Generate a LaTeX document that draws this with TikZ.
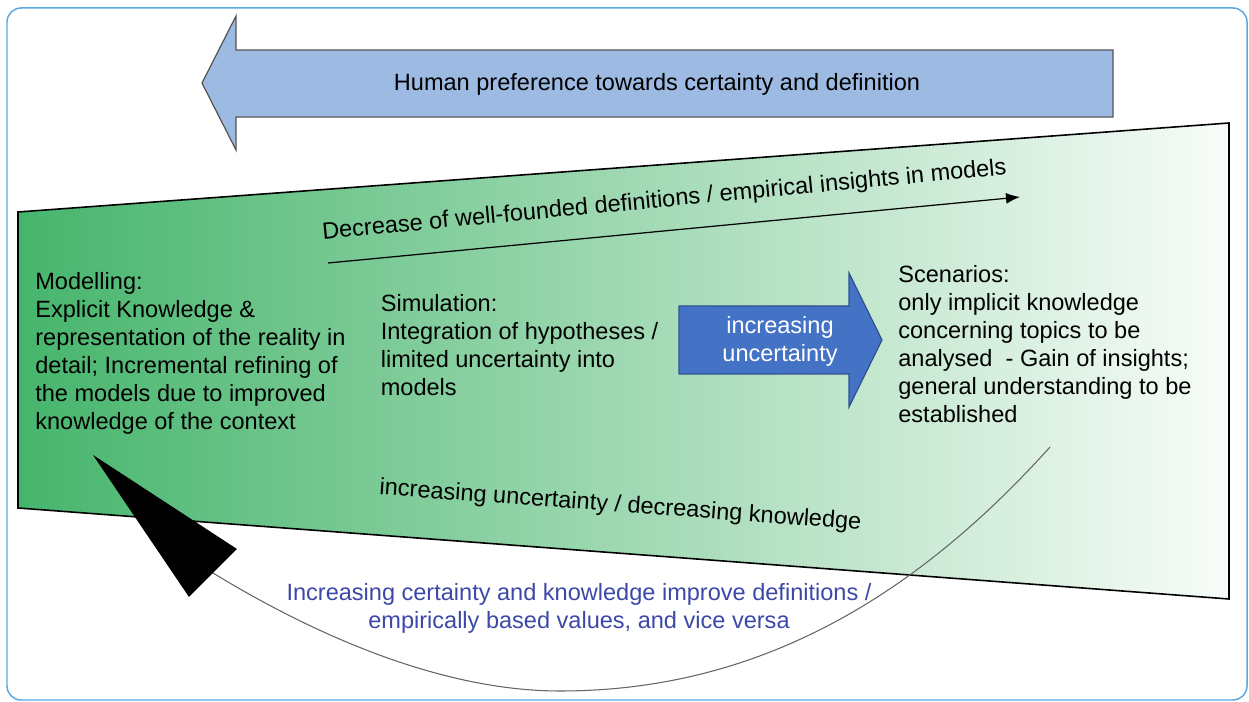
\documentclass[tikz,border=0pt]{standalone}
\usepackage{fontspec}
\setmainfont{Liberation Sans}
\usetikzlibrary{arrows.meta}
\definecolor{frameblue}{RGB}{91,168,225}
\definecolor{leftgreen}{RGB}{70,181,108}
\definecolor{rightpale}{RGB}{248,252,249}
\definecolor{bigarrowfill}{RGB}{157,186,226}
\definecolor{bigarrowline}{RGB}{85,85,85}
\definecolor{uncfill}{RGB}{68,114,196}
\definecolor{uncline}{RGB}{47,82,143}
\definecolor{bluetext}{RGB}{60,72,168}
\definecolor{curvegray}{RGB}{100,100,100}
\tikzset{
  txt/.style={inner sep=0pt, font=\fontsize{13.4pt}{16pt}\selectfont},
  blocktxt/.style={txt, align=left, anchor=north west},
}
\begin{document}
\begin{tikzpicture}[x=0.02cm, y=-0.02cm]
\useasboundingbox (0,0) rectangle (1249,702);
% outer frame
\draw[frameblue, line width=0.85pt, rounded corners=8pt] (7,8) rectangle (1247,700);
% big left arrow
\draw[fill=bigarrowfill, draw=bigarrowline, line width=0.7pt]
  (202,83) -- (236,16) -- (236,50) -- (1113,50) -- (1113,117) -- (236,117) -- (236,150) -- cycle;
\node[txt, anchor=base] (pref) at (657,91) {Human preference towards certainty and definition};
% trapezoid with gradient
\shade[left color=leftgreen, right color=rightpale] (18,212) -- (1229,123) -- (1229,599) -- (18,508) -- cycle;
\draw[black, line width=0.9pt] (18,212) -- (1229,123) -- (1229,599) -- (18,508) -- cycle;
% decrease arrow
\coordinate (ds) at (328,263);
\coordinate (de) at (1020,197);
\draw[line width=0.7pt, -{Latex[length=2.8mm,width=2.2mm]}] (ds) -- (de);
\node[txt, anchor=base, rotate=5.4] (decr) at (665,207) {Decrease of well-founded definitions / empirical insights in models};
% text blocks
\node[blocktxt] (model) at (35,272) {Modelling:\\Explicit Knowledge \&\\representation of the reality in\\detail; Incremental refining of\\the models due to improved\\knowledge of the context};
\node[blocktxt] (sim) at (380.5,294) {Simulation:\\Integration of hypotheses /\\limited uncertainty into\\models};
\node[blocktxt] (scen) at (898,265) {Scenarios:\\only implicit knowledge\\concerning topics to be\\analysed\ \ - Gain of insights;\\general understanding to be\\established};
% blue arrow
\draw[fill=uncfill, draw=uncline, line width=0.7pt]
  (679,306) -- (849,306) -- (849,273) -- (882,340) -- (849,407) -- (849,374) -- (679,374) -- cycle;
\node[txt, align=center, anchor=north, text=white] (unc) at (780,316) {increasing\\uncertainty};
% lower rotated text
\node[txt, anchor=base, rotate=-4.2] (incr) at (620,512) {increasing uncertainty / decreasing knowledge};
% feedback curve
\coordinate (cs) at (1050,447);
\coordinate (cb) at (560,691);
\coordinate (ce) at (213,573);
\draw[curvegray, line width=0.6pt] (cs) .. controls (900,614) and (740,691) .. (cb)
  .. controls (440,691) and (313,634) .. (ce);
\fill[black] (93,455) -- (237,549) -- (189,597) -- cycle;
\node[txt, align=center, anchor=north, text=bluetext] (fb) at (579,583) {Increasing certainty and knowledge improve definitions /\\empirically based values, and vice versa};
\end{tikzpicture}
\end{document}
